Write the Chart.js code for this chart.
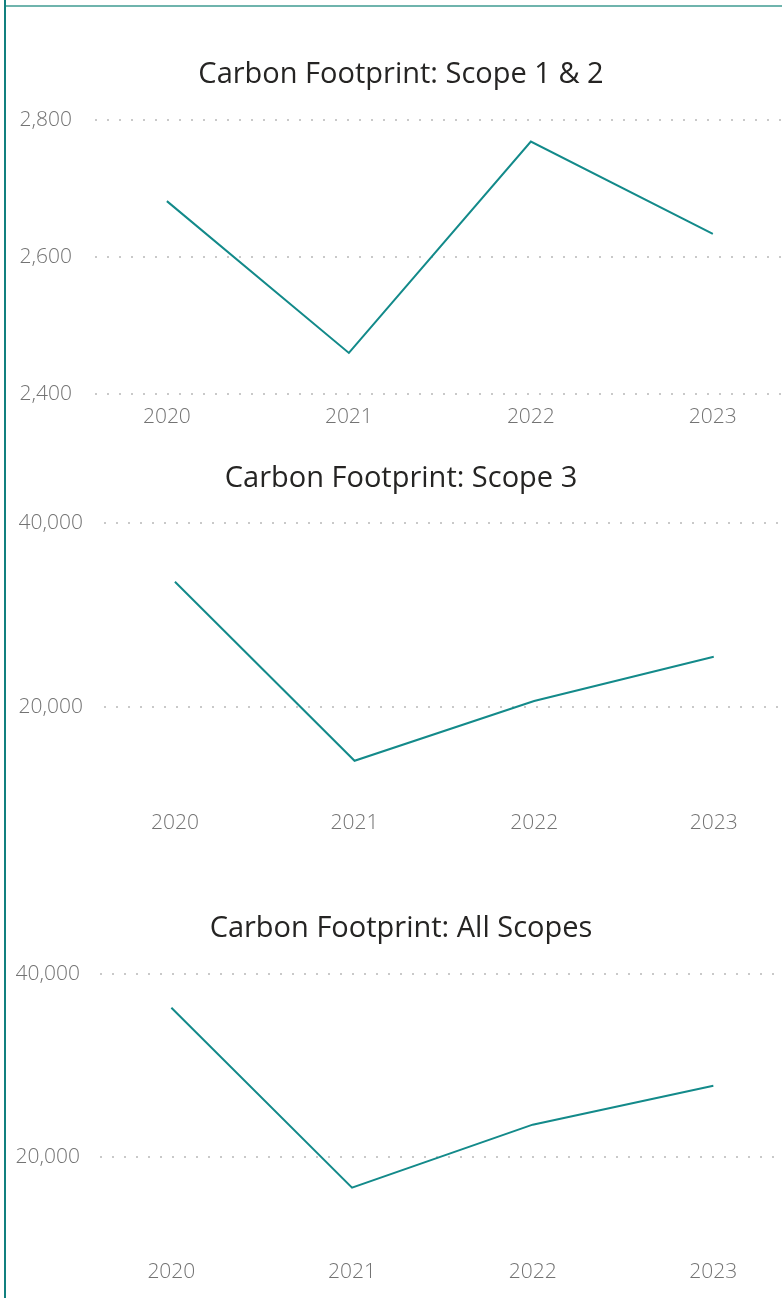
<!DOCTYPE html>
<html>
<head>
<meta charset="utf-8">
<title>Carbon Footprint</title>
<script src="https://cdn.jsdelivr.net/npm/chart.js@4.4.1/dist/chart.umd.min.js"></script>
<style>
  html, body { margin: 0; padding: 0; background: #ffffff; }
  #page { position: relative; width: 782px; height: 1298px; overflow: hidden; background: #ffffff; }
  #page canvas { position: absolute; left: 0; }
  .edge-left { position: absolute; left: 4px; top: 0; width: 2px; height: 1298px; background: #11807f; z-index: 2; }
  .edge-top { position: absolute; left: 6px; top: 5px; width: 776px; height: 2px; background: #6fb4ad; z-index: 2; }
</style>
</head>
<body>
<div id="page">
  <div class="edge-left"></div>
  <div class="edge-top"></div>
  <canvas id="scope12"></canvas>
  <canvas id="scope3"></canvas>
  <canvas id="allScopes"></canvas>
</div>
<script>
// Reporting years and emissions per scope
const years = [2020, 2021, 2022, 2023];
const scope12Values = [2682, 2460, 2769, 2634];
const scope3Values = [33600, 14150, 20650, 25450];
const allScopesValues = [36300, 16600, 23500, 27750];

// Value-axis tick labels for each panel
const scope12Ticks = [2400, 2600, 2800];
const scope3Ticks = [20000, 40000];
const allScopesTicks = [20000, 40000];

const LINE_COLOR = '#138a8a';
const TICK_COLOR = '#737373';
const GRID_COLOR = '#c9c9c9';
const FONT = '"Open Sans", "Noto Sans", sans-serif';
const TITLE_SIZE = 29;
const TITLE_LINE = TITLE_SIZE * 1.2;
const TICK_SIZE = 21;
const LEFT_INSET = 20;

// Panel geometry (page pixels)
const panels = [
  { id: 'scope12', title: 'Carbon Footprint: Scope 1 & 2', values: scope12Values, ticks: scope12Ticks,
    yMin: 2400, yMax: 2800, titleCenter: 74, plotTop: 120, plotBottom: 394, plotLeft: 95, yPad: 23, xPad: 10 },
  { id: 'scope3', title: 'Carbon Footprint: Scope 3', values: scope3Values, ticks: scope3Ticks,
    yMin: 10000, yMax: 40000, titleCenter: 478.5, plotTop: 523, plotBottom: 799, plotLeft: 104, yPad: 21, xPad: 11 },
  { id: 'allScopes', title: 'Carbon Footprint: All Scopes', values: allScopesValues, ticks: allScopesTicks,
    yMin: 10000, yMax: 40000, titleCenter: 928.5, plotTop: 974, plotBottom: 1248.5, plotLeft: 100, yPad: 20, xPad: 11 }
];

const X_AXIS_HEIGHT = 44;
const TITLE_PAD_TOP = 6;
const WIDTH = 782;

// Let the value labels use the full left margin instead of being clipped at the inset
const labelRoom = {
  id: 'labelRoom',
  afterLayout(chart) { chart.scales.y.left = 0; }
};

panels.forEach(p => {
  const canvas = document.getElementById(p.id);
  const top = p.titleCenter - TITLE_LINE / 2 - TITLE_PAD_TOP;
  const height = Math.round(p.plotBottom + X_AXIS_HEIGHT - top);
  canvas.width = WIDTH;
  canvas.height = height;
  canvas.style.width = WIDTH + 'px';
  canvas.style.height = height + 'px';
  canvas.style.top = top + 'px';
  const titlePadBottom = p.plotTop - (top + TITLE_PAD_TOP + TITLE_LINE);

  new Chart(canvas, {
    type: 'line',
    plugins: [labelRoom],
    data: {
      datasets: [{
        data: years.map((y, i) => ({ x: y, y: p.values[i] })),
        borderColor: LINE_COLOR,
        borderWidth: 2,
        pointRadius: 0,
        tension: 0,
        fill: false
      }]
    },
    options: {
      responsive: false,
      animation: false,
      devicePixelRatio: 1,
      layout: { padding: { left: LEFT_INSET, right: 0, top: 0, bottom: 0 }, autoPadding: false },
      plugins: {
        legend: { display: false },
        tooltip: { enabled: false },
        title: {
          display: true,
          text: p.title,
          color: '#252423',
          font: { family: FONT, size: TITLE_SIZE, weight: '400', lineHeight: 1.2 },
          padding: { top: TITLE_PAD_TOP, bottom: titlePadBottom }
        }
      },
      scales: {
        x: {
          type: 'linear',
          min: years[0] - 0.395,
          max: years[years.length - 1] + 0.38,
          afterBuildTicks: s => { s.ticks = years.map(v => ({ value: v })); },
          afterFit: s => { s.height = X_AXIS_HEIGHT; },
          grid: { display: false, drawTicks: false },
          border: { display: false },
          ticks: {
            color: TICK_COLOR,
            padding: p.xPad,
            maxRotation: 0,
            autoSkip: false,
            font: { family: FONT, size: TICK_SIZE, weight: '300', lineHeight: 1.2 },
            callback: v => String(v)
          }
        },
        y: {
          min: p.yMin,
          max: p.yMax,
          afterBuildTicks: s => { s.ticks = p.ticks.map(v => ({ value: v })); },
          afterFit: s => { s.width = p.plotLeft - LEFT_INSET; },
          grid: { color: GRID_COLOR, lineWidth: 2, drawTicks: false },
          border: { display: false, dash: [2, 10] },
          ticks: {
            color: TICK_COLOR,
            padding: p.yPad,
            font: { family: FONT, size: TICK_SIZE, weight: '300', lineHeight: 1.2 },
            callback: v => v.toLocaleString('en-US')
          }
        }
      }
    }
  });
});
</script>
</body>
</html>
